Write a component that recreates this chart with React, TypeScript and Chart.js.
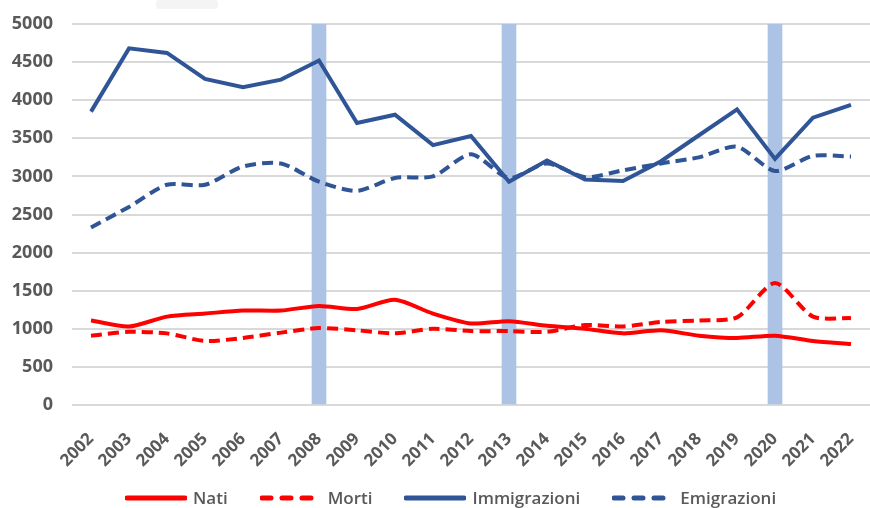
import React, { useEffect, useRef } from "react";
import { Chart, registerables } from "chart.js";

Chart.register(...registerables);

const years = [
  "2002", "2003", "2004", "2005", "2006", "2007", "2008", "2009", "2010", "2011", "2012",
  "2013", "2014", "2015", "2016", "2017", "2018", "2019", "2020", "2021", "2022",
];

const nati = [1110, 1030, 1160, 1200, 1240, 1240, 1300, 1260, 1380, 1200, 1070, 1100, 1040, 1000, 940, 980, 910, 880, 910, 840, 800];
const morti = [910, 960, 940, 840, 880, 950, 1010, 980, 940, 1000, 970, 970, 960, 1050, 1030, 1090, 1110, 1150, 1600, 1160, 1140];
const immigrazioni = [3850, 4680, 4620, 4280, 4170, 4270, 4520, 3700, 3810, 3410, 3530, 2930, 3210, 2960, 2940, 3200, 3540, 3880, 3230, 3770, 3940];
const emigrazioni = [2330, 2600, 2890, 2890, 3130, 3170, 2930, 2810, 2980, 3000, 3290, 2980, 3170, 2990, 3080, 3170, 3250, 3390, 3070, 3270, 3260];

// Years highlighted with a full-height vertical band
const highlightYears = ["2008", "2013", "2020"];
const yMax = 5000;
const yStep = 500;

const RED = "#ff0000";
const BLUE = "#2f5597";
const BAND = "#adc3e6";
const TEXT = "#595959";
const FONT = "'Open Sans', 'DejaVu Sans', sans-serif";
const DASH = [11, 6];

const series = [
  { label: "Nati", data: nati, color: RED, dashed: false, tension: 0.25 },
  { label: "Morti", data: morti, color: RED, dashed: true, tension: 0.25 },
  { label: "Immigrazioni", data: immigrazioni, color: BLUE, dashed: false, tension: 0 },
  { label: "Emigrazioni", data: emigrazioni, color: BLUE, dashed: true, tension: 0.25 },
];

function LegendItem({ label, color, dashed }: { label: string; color: string; dashed: boolean }) {
  return (
    <div style={{ display: "flex", alignItems: "center", gap: 6 }}>
      <svg width={62} height={10}>
        <line
          x1={2}
          y1={5}
          x2={60}
          y2={5}
          stroke={color}
          strokeWidth={5}
          strokeLinecap="round"
          strokeDasharray={dashed ? "9 11" : undefined}
        />
      </svg>
      <span style={{ fontFamily: FONT, fontSize: 17, fontWeight: 600, color: TEXT, lineHeight: "20px" }}>
        {label}
      </span>
    </div>
  );
}

export default function App() {
  const canvasRef = useRef<HTMLCanvasElement | null>(null);

  useEffect(() => {
    document.body.style.margin = "0";
    const canvas = canvasRef.current;
    if (!canvas) return;

    const bandData = years.map((y) => (highlightYears.includes(y) ? yMax : null));

    const chart = new Chart(canvas, {
      type: "line",
      data: {
        labels: years,
        datasets: [
          ...series.map((s) => ({
            type: "line" as const,
            label: s.label,
            data: s.data,
            borderColor: s.color,
            backgroundColor: s.color,
            borderDash: s.dashed ? DASH : [],
            borderWidth: 4,
            tension: s.tension,
            pointRadius: 0,
            pointHoverRadius: 0,
            fill: false,
            order: 1,
          })),
          {
            type: "bar" as const,
            label: "band",
            data: bandData as any,
            backgroundColor: BAND,
            barThickness: 14,
            order: 10,
          },
        ],
      },
      options: {
        animation: false,
        responsive: true,
        maintainAspectRatio: false,
        layout: { padding: { top: 24, right: 0, left: 0, bottom: 25 } },
        plugins: {
          tooltip: { enabled: false },
          legend: { display: false },
        },
        scales: {
          x: {
            offset: true,
            grid: { display: false },
            border: { display: false },
            afterFit: (scale: any) => {
              scale.height = 78;
              scale.paddingLeft = 0;
              scale.paddingRight = 0;
            },
            ticks: {
              color: TEXT,
              minRotation: 45,
              maxRotation: 45,
              autoSkip: false,
              padding: 16,
              font: { family: FONT, size: 17, weight: 700 as any },
            },
          },
          y: {
            min: 0,
            max: yMax,
            border: { display: false },
            grid: { color: "#d9d9d9", lineWidth: 2, drawTicks: false },
            afterFit: (scale: any) => {
              scale.width = 72;
              // the outer labels may spill into the layout padding
              scale.paddingTop = 0;
              scale.paddingBottom = 0;
            },
            ticks: {
              stepSize: yStep,
              color: TEXT,
              padding: 19,
              callback: (v: any) => String(v),
              font: { family: FONT, size: 18, weight: 700 as any },
            },
          },
        },
      },
    });

    return () => chart.destroy();
  }, []);

  return (
    <div style={{ position: "relative", width: 870, height: 508, background: "#fff", overflow: "hidden" }}>
      <div
        style={{
          position: "absolute",
          left: 156,
          top: 0,
          width: 62,
          height: 9,
          background: "#f4f4f4",
          borderRadius: 3,
        }}
      />
      <div style={{ position: "absolute", inset: 0 }}>
        <canvas ref={canvasRef} />
      </div>
      <div
        style={{
          position: "absolute",
          left: 125,
          top: 488,
          display: "flex",
          alignItems: "center",
          gap: 32,
        }}
      >
        {series.map((s) => (
          <LegendItem key={s.label} label={s.label} color={s.color} dashed={s.dashed} />
        ))}
      </div>
    </div>
  );
}
